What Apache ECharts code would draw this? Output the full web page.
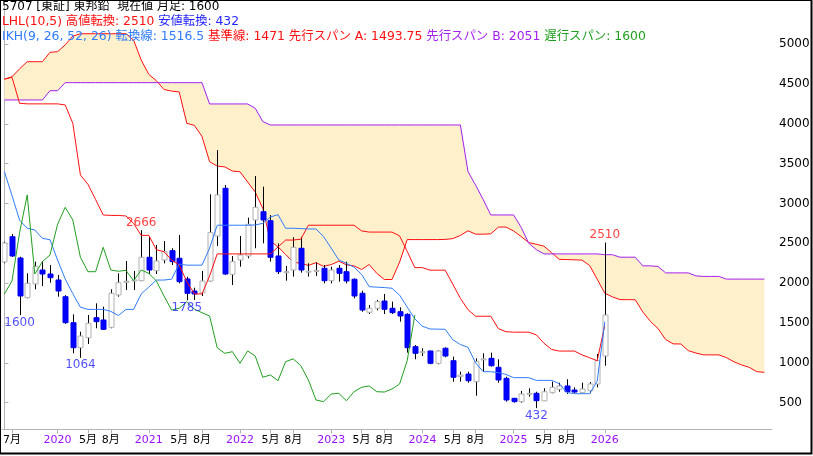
<!DOCTYPE html>
<html><head><meta charset="utf-8">
<script src="https://cdn.jsdelivr.net/npm/echarts@6/dist/echarts.min.js"></script>
<style>html,body{margin:0;padding:0;background:#fff}#c{width:813px;height:456px}</style>
</head><body><div id="c"></div>
<script>
// ---- header texts ----
const code = '5707', market = '東証', stockName = '東邦鉛';
const lastPrice = 1600, lhlHigh = 2510, lhlLow = 432;
const tenkanNow = 1516.5, kijunNow = 1471, spanANow = 1493.75, spanBNow = 2051, chikouNow = 1600;

// month index 0 = 2019-06 (monthly candles), axis runs to index 101
const tickIdx  = [1,7,11,14,19,23,26,31,35,38,43,47,50,55,59,62,67,71,74,79];
const tickText = ['7月','2020','5月','8月','2021','5月','8月','2022','5月','8月','2023','5月','8月','2024','5月','8月','2025','5月','8月','2026'];
const yTicks = [500,1000,1500,2000,2500,3000,3500,4000,4500,5000];

// ---- OHLC (2019-06 .. 2026-01) ----
const opens  = [2266,2583,2316,1818,1990,2165,2115,2040,1830,1504, 1190,1316,1567,1538,1446,1852,2010,2030,2031,2325, 2157,2291,2408,2312,2053,1902,1880,2027,2592,3191, 2111,2291,2341,2793,2897,2784,2341,2135,2165,2438, 2140,2150,2187,2031,2187,2144,2049,1873,1635,1685, 1776,1685,1642,1609,1203,1128,1149,994,1183,1027, 827,860,764,1040,1057,944,806,555,513,610, 618,523,626,668,710,659,626,651,735,1086];
const closes = [2504,2341,1839,1998,2207,2115,2069,1902,1504,1190, 1337,1496,1517,1421,1873,2006,2025,2040,2325,2165, 2278,2395,2270,2019,1873,1864,2027,2634,3107,2115, 2270,2354,2739,2952,2793,2325,2144,2144,2450,2165, 2150,2160,2031,2165,2124,2027,1839,1663,1685,1768, 1672,1630,1588,1190,1120,1140,994,1149,1086,819, 848,776,1015,1050,964,785,534,513,609,618, 525,638,693,710,638,634,672,735,1027,1600];
const lows   = [2250,2330,1600,1810,1923,1964,2006,1830,1490,1120, 1064,1237,1434,1412,1434,1830,1914,1914,2025,2115, 2115,2249,2228,1998,1785,1789,1839,2020,2467,2103, 1977,2207,2312,2438,2500,2270,2115,2031,2082,2132, 2082,2090,1998,1998,2019,1998,1810,1642,1613,1660, 1613,1613,1517,1128,1045,1086,982,982,1070,764, 764,751,588,889,952,751,513,500,500,575, 432,523,618,638,609,618,618,618,693,964];
const highs  = [2520,2617,2332,2124,2270,2278,2228,2103,1850,1609, 1391,1601,1747,1705,1923,2124,2278,2153,2666,2592, 2479,2529,2438,2605,2080,1943,2153,3115,3670,3232, 2341,2592,2822,3345,3211,2855,2500,2216,2576,2583, 2249,2260,2228,2207,2228,2270,2060,1905,1726,1789, 1864,1768,1697,1622,1224,1183,1153,1158,1195,1078, 889,889,1057,1120,1128,1045,826,560,647,681, 638,681,764,751,794,693,751,760,1111,2510];

// ---- Ichimoku lines ----
const tenkan = [3400,3100,2790,2690,2667,2563,2545,2290,2053,1868, 1698,1671,1671,1671,1646,1594,1671,1671,1865,1951, 2039,2039,2050,2240,2226,2226,2226,2440,2727,2727, 2727,2727,2727,2730,2751,2830,2860,2689,2689,2685, 2680,2680,2583,2440,2291,2249,2200,2110,1956,1950, 1945,1936,1850,1700,1552,1460,1425,1423,1421,1290, 1230,1195,1000,890,889,877,854,814,814,814, 780,780,780,740,629,613,613,613,770,1516.5];
const kijun  = [4560,4584,4257,4250,4250,4250,4250,4250,4236,4006, 3358,3240,3050,2856,2850,2850,2843,2750,2600,2600, 2420,2395,2291,2228,2019,1865,1865,2090,2367,2367, 2367,2367,2367,2367,2367,2367,2453,2541,2541,2552, 2727,2727,2727,2727,2727,2727,2727,2656,2641,2641, 2641,2641,2593,2399,2195,2195,2163,2163,2163,1987, 1809,1667,1585,1585,1585,1429,1391,1385,1385,1385, 1351,1246,1168,1148,1148,1148,1100,1064,1027,1471];
const spanA  = [4559,4590,4690,4779,4779,4779,4897,4905,4990,5100, 5130,5130,5130,5130,5130,5130,5130,5050,4800,4620, 4540,4430,4410,4400,4006,3980,3842,3524,3470,3459, 3407,3398,3270,3145,2937,2528,2456,2361,2264,2248, 2222,2257,2211,2233,2276,2230,2217,2171,2234,2123, 2046,2046,2265,2547,2547,2547,2547,2547,2549,2559, 2599,2657,2615,2615,2619,2704,2704,2655,2584,2509, 2488,2464,2383,2299,2296,2293,2289,2222,2050,1874, 1828,1794,1793,1792,1639,1520,1431,1293,1238,1237, 1153,1123,1100,1100,1100,1066,1013,974,944,889, 881];
const spanB  = [4299,4299,4299,4299,4299,4299,4415,4415,4516,4516, 4516,4516,4516,4516,4516,4516,4516,4516,4516,4516, 4516,4516,4516,4516,4516,4516,4516,4249,4249,4249, 4249,4249,4249,4195,4028,3985,3985,3985,3985,3985, 3985,3985,3985,3985,3985,3985,3985,3985,3985,3985, 3985,3985,3985,3985,3985,3985,3985,3985,3985,3985, 3985,3400,3230,3050,2856,2856,2856,2856,2700,2500, 2420,2367,2367,2367,2367,2367,2367,2367,2367,2357, 2357,2326,2326,2326,2217,2217,2210,2129,2129,2129, 2129,2091,2085,2085,2085,2051,2051,2051,2051,2051, 2051];
const chikouShift = 25;  // lagging span drawn from closes, shifted back

// ---- LHL high / low labels ----
const highMarks = [[18,2666],[79,2510]];
const lowMarks  = [[2,1600],[10,1064],[24,1785],[70,432]];

const FONT = '"DejaVu Sans","Noto Sans CJK JP",sans-serif';
const RED = '#ff1010', BLUE = '#2f7cff', PURPLE = '#a61ff0', GREEN = '#1f9f1f', DBLUE = '#2424ff';

const candleData = opens.map((o,i)=>[i, o, closes[i], lows[i], highs[i]]);
const pairs = arr => arr.map((v,i)=>[i,v]);
const chikou = closes.slice(chikouShift).map((v,k)=>[k,v]);

const chart = echarts.init(document.getElementById('c'), null, {renderer:'canvas'});
chart.setOption({
  animation:false,
  backgroundColor:'#fff',
  textStyle:{fontFamily:FONT},
  title:[
    {left:2, top:1, padding:0, text:`${code} [${market}] ${stockName}  現在値 月足: ${lastPrice}`,
     textStyle:{fontSize:12, fontWeight:'normal', color:'#000', fontFamily:FONT}},
    {left:2, top:16, padding:0, text:`{r|LHL(10,5) 高値転換: ${lhlHigh}} {b|安値転換: ${lhlLow}}`,
     textStyle:{fontSize:12.3, fontWeight:'normal', fontFamily:FONT,
       rich:{r:{color:RED,fontSize:12.3,fontFamily:FONT}, b:{color:DBLUE,fontSize:12.3,fontFamily:FONT}}}},
    {left:2, top:31, padding:0,
     text:`{c|IKH(9, 26, 52, 26) 転換線: ${tenkanNow}} {r|基準線: ${kijunNow} 先行スパン A: ${spanANow}} {p|先行スパン B: ${spanBNow}} {g|遅行スパン: ${chikouNow}}`,
     textStyle:{fontSize:12.4, fontWeight:'normal', fontFamily:FONT,
       rich:{c:{color:BLUE,fontSize:12.4,fontFamily:FONT}, r:{color:RED,fontSize:12.4,fontFamily:FONT},
             p:{color:PURPLE,fontSize:12.4,fontFamily:FONT}, g:{color:GREEN,fontSize:12.4,fontFamily:FONT}}}}
  ],
  grid:{left:0, right:41, top:0, bottom:26.5},
  xAxis:{
    type:'value', min:-0.315, max:101,
    axisLine:{show:true, lineStyle:{color:'#b4b4b4'}},
    axisTick:{show:true, customValues:tickIdx, length:4, lineStyle:{color:'#b4b4b4'}},
    splitLine:{show:false},
    axisLabel:{customValues:tickIdx, margin:5, fontSize:11, fontFamily:FONT,
      formatter:v=>{const t=tickText[tickIdx.indexOf(Math.round(v))]||''; return /^\d{4}$/.test(t)?'{y|'+t+'}':'{m|'+t+'}';},
      rich:{y:{color:'#9a10ff',fontSize:11,fontFamily:FONT}, m:{color:'#000',fontSize:11,fontFamily:FONT}}}
  },
  yAxis:{
    type:'value', position:'right', min:163.7, max:5553.4,
    axisLine:{show:true, lineStyle:{color:'#b4b4b4'}},
    axisTick:{show:true, customValues:yTicks, length:4, lineStyle:{color:'#b4b4b4'}},
    splitLine:{show:false},
    axisLabel:{customValues:yTicks, margin:7, fontSize:12, color:'#000', fontFamily:FONT, formatter:v=>String(v)}
  },
  series:[
    {type:'custom', name:'cloud', clip:true, z:1, silent:true,
     data:[[0, spanA[0]]], encode:{x:0,y:1},
     renderItem:(params, api)=>{
       const pts = spanA.map((v,i)=>api.coord([i,v]));
       const back = spanB.map((v,i)=>api.coord([i,v])).reverse();
       return {type:'polygon', shape:{points:pts.concat(back)}, style:{fill:'#fff0cc', stroke:null}};
     }},
    {type:'line', name:'spanA', data:pairs(spanA), showSymbol:false, symbol:'none', z:2, lineStyle:{color:RED, width:1}},
    {type:'line', name:'spanB', data:pairs(spanB), showSymbol:false, symbol:'none', z:2, lineStyle:{color:PURPLE, width:1}},
    {type:'custom', name:'candles', clip:true, z:3, data:candleData, encode:{x:0, y:[1,2,3,4]},
     renderItem:(params, api)=>{
       const x=api.value(0), o=api.value(1), c=api.value(2), l=api.value(3), h=api.value(4);
       const pO=api.coord([x,o]), pC=api.coord([x,c]), pL=api.coord([x,l]), pH=api.coord([x,h]);
       const cx=Math.round(pO[0])+0.5, w=5;
       const top=Math.min(pO[1],pC[1]), bot=Math.max(pO[1],pC[1]);
       const up=c>=o;
       return {type:'group', children:[
         {type:'line', shape:{x1:cx,y1:pH[1],x2:cx,y2:pL[1]}, style:{stroke:'#000',lineWidth:1}},
         {type:'rect', shape:{x:cx-w/2, y:top, width:w, height:Math.max(bot-top,1)},
          style:{fill:up?'#fff':'#0000ff', stroke:up?'#b0b0b0':'#0000ee', lineWidth:1}}
       ]};
     }},
    {type:'line', name:'kijun', data:pairs(kijun), showSymbol:false, symbol:'none', z:4, lineStyle:{color:RED, width:1}},
    {type:'line', name:'tenkan', data:pairs(tenkan), showSymbol:false, symbol:'none', z:4, lineStyle:{color:BLUE, width:1}},
    {type:'line', name:'chikou', data:chikou, showSymbol:false, symbol:'none', z:4, lineStyle:{color:GREEN, width:1}},
    {type:'scatter', name:'highs', data:highMarks, symbolSize:1, z:5, itemStyle:{color:'rgba(0,0,0,0)'},
     label:{show:true, position:'top', distance:1, color:RED, fontSize:12, fontFamily:FONT, formatter:p=>p.value[1]}},
    {type:'scatter', name:'lows', data:lowMarks, symbolSize:1, z:5, itemStyle:{color:'rgba(0,0,0,0)'},
     label:{show:true, position:'bottom', distance:1, color:DBLUE, fontSize:12, fontFamily:FONT, formatter:p=>p.value[1]}}
  ],
  graphic:[{type:'rect', silent:true, z:100, shape:{x:0,y:0,width:811.5,height:453.5}, style:{fill:null, stroke:'#000', lineWidth:2}}]
});
</script></body></html>
